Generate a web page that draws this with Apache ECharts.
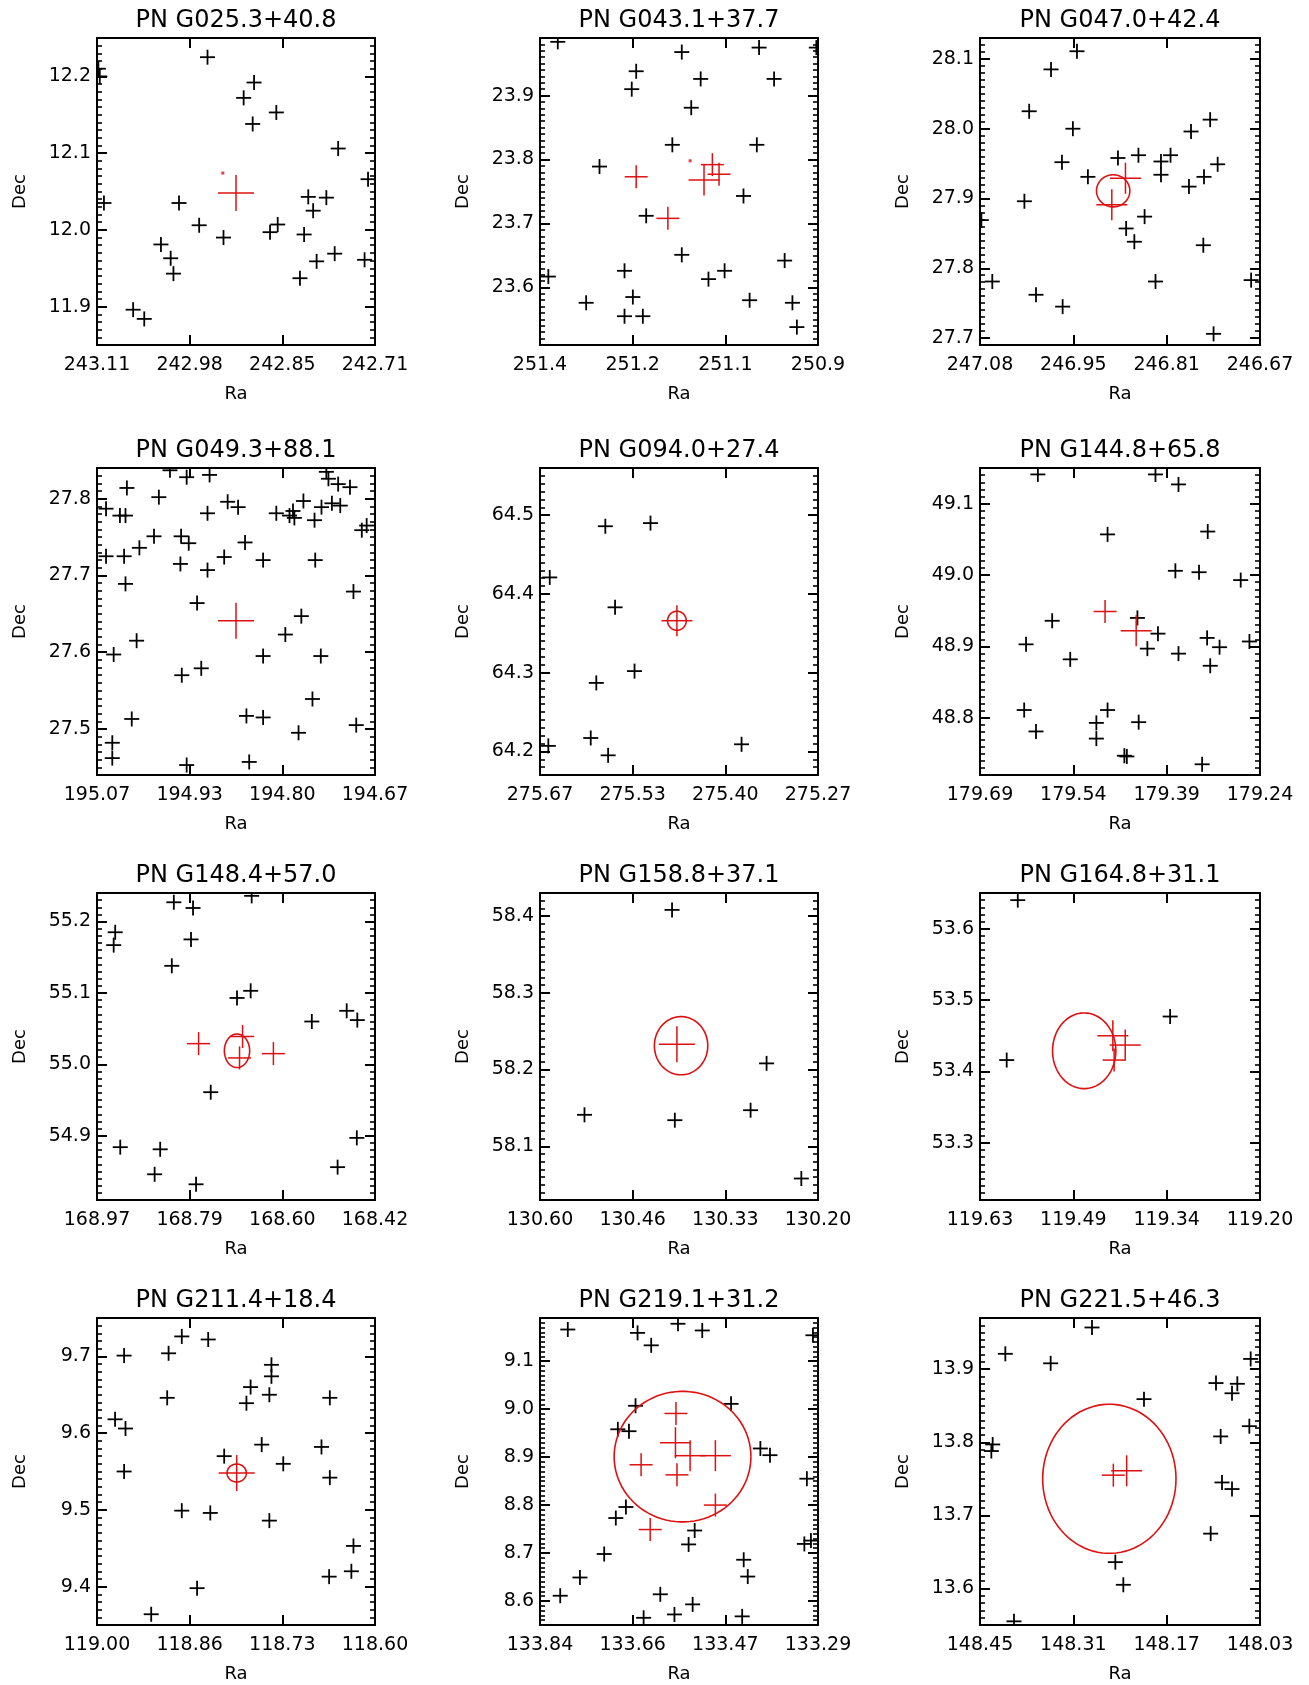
<!DOCTYPE html>
<html><head><meta charset="utf-8">
<script src="https://cdn.jsdelivr.net/npm/echarts@6/dist/echarts.min.js"></script>
<style>html,body{margin:0;padding:0;background:#fff}#c{width:1309px;height:1685px}</style>
</head><body><div id="c"></div><script>
// ---------- DATA ----------
const p1Title = 'PN G025.3+40.8';
const p1Ra = ['243.11','242.98','242.85','242.71'];
const p1Dec = ['11.9','12.0','12.1','12.2'];
const p1DecLim = [11.85, 12.25];
const p1Black = [[242.951,12.225],[243.108,12.210],[243.106,12.200],[242.884,12.192],[242.899,12.172],[242.852,12.153],[242.886,12.138],[242.763,12.106],[242.720,12.066],[243.100,12.035],[242.992,12.035],[242.963,12.006],[242.928,11.990],[243.018,11.981],[243.004,11.963],[243.000,11.943],[242.861,11.997],[242.850,12.007],[242.806,12.043],[242.799,12.025],[242.780,12.042],[242.812,11.994],[242.794,11.959],[242.768,11.969],[242.818,11.937],[242.725,11.961],[243.058,11.896],[243.042,11.884]];
const p1RedL = [[242.910,12.048]];
const p1Dots = [[242.929,12.074]];

const p2Title = 'PN G043.1+37.7';
const p2Ra = ['251.4','251.2','251.1','250.9'];
const p2Dec = ['23.6','23.7','23.8','23.9'];
const p2DecLim = [23.51, 23.99];
const p2Black = [[251.368,23.984],[251.145,23.968],[251.006,23.975],[250.903,23.975],[251.227,23.938],[251.235,23.910],[251.111,23.926],[250.979,23.926],[251.128,23.881],[251.162,23.823],[251.010,23.823],[251.293,23.789],[251.034,23.743],[251.209,23.712],[251.145,23.651],[250.960,23.642],[251.385,23.617],[251.248,23.626],[251.097,23.613],[251.068,23.626],[251.317,23.576],[251.233,23.585],[251.248,23.555],[251.215,23.555],[251.023,23.580],[250.946,23.576],[250.938,23.538]];
const p2RedM = [[251.105,23.768]];
const p2RedS = [[251.227,23.773],[251.170,23.708],[251.090,23.792],[251.078,23.777]];
const p2Dots = [[251.130,23.798]];

const p3Title = 'PN G047.0+42.4';
const p3Ra = ['247.08','246.95','246.81','246.67'];
const p3Dec = ['27.7','27.8','27.9','28.0','28.1'];
const p3DecLim = [27.69, 28.13];
const p3Black = [[246.938,28.111],[246.976,28.085],[247.008,28.025],[246.944,28.000],[246.960,27.952],[246.922,27.931],[246.878,27.958],[246.848,27.962],[246.815,27.953],[246.815,27.934],[246.801,27.962],[246.771,27.996],[246.743,28.013],[246.774,27.917],[246.752,27.931],[246.732,27.949],[247.015,27.896],[246.839,27.874],[246.866,27.857],[246.854,27.838],[246.753,27.833],[247.078,27.869],[247.062,27.781],[246.998,27.762],[246.959,27.745],[246.823,27.781],[246.683,27.783],[246.738,27.706]];
const p3RedM = [[246.867,27.929],[246.887,27.891]];
const p3Circ = [[246.885,27.911,0.0244,0.023]];

const p4Title = 'PN G049.3+88.1';
const p4Ra = ['195.07','194.93','194.80','194.67'];
const p4Dec = ['27.5','27.6','27.7','27.8'];
const p4DecLim = [27.44, 27.84];
const p4Black = [[194.965,27.837],[194.941,27.828],[194.908,27.831],[194.740,27.835],[194.737,27.826],[194.723,27.819],[194.706,27.815],[195.027,27.814],[194.981,27.802],[195.057,27.787],[195.037,27.778],[195.029,27.778],[194.882,27.796],[194.867,27.789],[194.911,27.781],[194.812,27.781],[194.788,27.784],[194.786,27.775],[194.793,27.778],[194.773,27.797],[194.757,27.772],[194.747,27.789],[194.732,27.794],[194.720,27.791],[194.689,27.759],[194.682,27.765],[194.988,27.751],[194.949,27.751],[194.938,27.742],[195.009,27.736],[194.857,27.743],[195.057,27.725],[195.031,27.725],[194.950,27.715],[194.887,27.724],[194.831,27.720],[194.756,27.720],[194.911,27.707],[195.029,27.689],[194.701,27.679],[194.926,27.664],[194.776,27.647],[194.799,27.623],[195.013,27.615],[195.046,27.597],[194.831,27.595],[194.748,27.595],[194.920,27.579],[194.948,27.570],[194.760,27.539],[195.020,27.513],[194.855,27.517],[194.831,27.515],[194.697,27.505],[194.780,27.495],[195.048,27.482],[195.048,27.462],[194.941,27.453],[194.851,27.457]];
const p4RedL = [[194.870,27.641]];

const p5Title = 'PN G094.0+27.4';
const p5Ra = ['275.67','275.53','275.40','275.27'];
const p5Dec = ['64.2','64.3','64.4','64.5'];
const p5DecLim = [64.17, 64.56];
const p5Black = [[275.576,64.486],[275.511,64.490],[275.656,64.421],[275.562,64.383],[275.534,64.302],[275.589,64.287],[275.597,64.217],[275.658,64.207],[275.572,64.195],[275.380,64.209]];
const p5RedM = [[275.473,64.366]];
const p5Circ = [[275.473,64.366,0.0134,0.0121]];

const p6Title = 'PN G144.8+65.8';
const p6Ra = ['179.69','179.54','179.39','179.24'];
const p6Dec = ['48.8','48.9','49.0','49.1'];
const p6DecLim = [48.72, 49.15];
const p6Black = [[179.597,49.141],[179.408,49.141],[179.371,49.127],[179.485,49.057],[179.324,49.061],[179.376,49.006],[179.338,49.004],[179.271,48.993],[179.574,48.936],[179.437,48.940],[179.404,48.918],[179.616,48.903],[179.421,48.897],[179.325,48.912],[179.305,48.899],[179.257,48.907],[179.371,48.890],[179.545,48.882],[179.320,48.873],[179.619,48.811],[179.485,48.811],[179.600,48.781],[179.503,48.793],[179.503,48.771],[179.435,48.794],[179.454,48.746],[179.458,48.747],[179.333,48.735]];
const p6RedM = [[179.439,48.922]];
const p6RedS = [[179.489,48.949]];

const p7Title = 'PN G148.4+57.0';
const p7Ra = ['168.97','168.79','168.60','168.42'];
const p7Dec = ['54.9','55.0','55.1','55.2'];
const p7DecLim = [54.81, 55.24];
const p7Black = [[168.818,55.227],[168.780,55.219],[168.664,55.236],[168.934,55.185],[168.937,55.167],[168.784,55.175],[168.822,55.138],[168.666,55.103],[168.693,55.093],[168.545,55.060],[168.476,55.075],[168.455,55.062],[168.745,54.961],[168.456,54.897],[168.924,54.884],[168.845,54.881],[168.494,54.856],[168.856,54.846],[168.774,54.832]];
const p7RedS = [[168.769,55.029],[168.621,55.015],[168.682,55.039],[168.688,55.009]];
const p7Circ = [[168.693,55.019,0.025,0.0235]];

const p8Title = 'PN G158.8+37.1';
const p8Ra = ['130.60','130.46','130.33','130.20'];
const p8Dec = ['58.1','58.2','58.3','58.4'];
const p8DecLim = [58.03, 58.43];
const p8Black = [[130.410,58.408],[130.274,58.208],[130.536,58.141],[130.406,58.134],[130.297,58.147],[130.224,58.058]];
const p8RedL = [[130.403,58.233]];
const p8Circ = [[130.397,58.231,0.0384,0.0379]];

const p9Title = 'PN G164.8+31.1';
const p9Ra = ['119.63','119.49','119.34','119.20'];
const p9Dec = ['53.3','53.4','53.5','53.6'];
const p9DecLim = [53.22, 53.65];
const p9Black = [[119.572,53.640],[119.338,53.477],[119.589,53.416]];
const p9RedM = [[119.426,53.450],[119.407,53.437]];
const p9RedS = [[119.424,53.416]];
const p9Circ = [[119.470,53.429,0.0486,0.053]];

const p10Title = 'PN G211.4+18.4';
const p10Ra = ['119.00','118.86','118.73','118.60'];
const p10Dec = ['9.4','9.5','9.6','9.7'];
const p10DecLim = [9.35, 9.75];
const p10Black = [[118.878,9.726],[118.840,9.722],[118.961,9.701],[118.897,9.704],[118.749,9.689],[118.749,9.674],[118.779,9.660],[118.752,9.650],[118.785,9.639],[118.899,9.646],[118.665,9.646],[118.974,9.618],[118.959,9.606],[118.763,9.585],[118.677,9.582],[118.817,9.570],[118.732,9.560],[118.961,9.550],[118.665,9.542],[118.878,9.499],[118.837,9.496],[118.752,9.486],[118.631,9.453],[118.634,9.420],[118.666,9.413],[118.856,9.398],[118.922,9.364]];
const p10RedL = [[118.799,9.548]];
const p10Circ = [[118.799,9.548,0.0139,0.0117]];

const p11Title = 'PN G219.1+31.2';
const p11Ra = ['133.84','133.66','133.47','133.29'];
const p11Dec = ['8.6','8.7','8.8','8.9','9.0','9.1'];
const p11DecLim = [8.55, 9.19];
const p11Black = [[133.785,9.166],[133.647,9.159],[133.620,9.133],[133.567,9.178],[133.519,9.164],[133.300,9.154],[133.651,9.007],[133.462,9.011],[133.686,8.958],[133.664,8.954],[133.404,8.918],[133.385,8.904],[133.312,8.855],[133.670,8.796],[133.690,8.773],[133.534,8.747],[133.546,8.718],[133.317,8.719],[133.304,8.726],[133.713,8.698],[133.437,8.686],[133.429,8.651],[133.761,8.649],[133.800,8.611],[133.602,8.614],[133.538,8.593],[133.635,8.565],[133.574,8.572],[133.440,8.568]];
const p11RedM = [[133.572,8.930],[133.543,8.903],[133.493,8.903]];
const p11RedS = [[133.571,8.991],[133.640,8.884],[133.569,8.863],[133.493,8.800],[133.622,8.749]];
const p11Circ = [[133.558,8.901,0.1353,0.1361]];

const p12Title = 'PN G221.5+46.3';
const p12Ra = ['148.45','148.31','148.17','148.03'];
const p12Dec = ['13.6','13.7','13.8','13.9'];
const p12DecLim = [13.55, 13.97];
const p12Black = [[148.282,13.957],[148.412,13.921],[148.344,13.908],[148.044,13.914],[148.096,13.881],[148.064,13.880],[148.072,13.867],[148.204,13.859],[148.046,13.822],[148.089,13.808],[148.431,13.797],[148.433,13.788],[148.087,13.745],[148.072,13.736],[148.104,13.675],[148.247,13.636],[148.235,13.605],[148.399,13.555]];
const p12RedM = [[148.230,13.761]];
const p12RedS = [[148.250,13.755]];
const p12Circ = [[148.256,13.750,0.1,0.102]];

// ---------- ASSEMBLY ----------
const panels = [
  {title:p1Title, ra:p1Ra, dec:p1Dec, lim:p1DecLim, black:p1Black, redL:p1RedL, dots:p1Dots},
  {title:p2Title, ra:p2Ra, dec:p2Dec, lim:p2DecLim, black:p2Black, redM:p2RedM, redS:p2RedS, dots:p2Dots},
  {title:p3Title, ra:p3Ra, dec:p3Dec, lim:p3DecLim, black:p3Black, redM:p3RedM, circ:p3Circ},
  {title:p4Title, ra:p4Ra, dec:p4Dec, lim:p4DecLim, black:p4Black, redL:p4RedL},
  {title:p5Title, ra:p5Ra, dec:p5Dec, lim:p5DecLim, black:p5Black, redM:p5RedM, circ:p5Circ},
  {title:p6Title, ra:p6Ra, dec:p6Dec, lim:p6DecLim, black:p6Black, redM:p6RedM, redS:p6RedS},
  {title:p7Title, ra:p7Ra, dec:p7Dec, lim:p7DecLim, black:p7Black, redS:p7RedS, circ:p7Circ},
  {title:p8Title, ra:p8Ra, dec:p8Dec, lim:p8DecLim, black:p8Black, redL:p8RedL, circ:p8Circ},
  {title:p9Title, ra:p9Ra, dec:p9Dec, lim:p9DecLim, black:p9Black, redM:p9RedM, redS:p9RedS, circ:p9Circ},
  {title:p10Title, ra:p10Ra, dec:p10Dec, lim:p10DecLim, black:p10Black, redL:p10RedL, circ:p10Circ},
  {title:p11Title, ra:p11Ra, dec:p11Dec, lim:p11DecLim, black:p11Black, redM:p11RedM, redS:p11RedS, circ:p11Circ},
  {title:p12Title, ra:p12Ra, dec:p12Dec, lim:p12DecLim, black:p12Black, redM:p12RedM, redS:p12RedS, circ:p12Circ}
];

const GL = [97, 540, 980], GW = [278, 278, 280], GT = [38, 468, 893, 1318], GH = 307;
const FONT = 'DejaVu Sans';
const RED = '#dd1111';
const MINOR = 0.01;

function crossRender(half, color, lw) {
  return function (params, api) {
    const c = api.coord([api.value(0), api.value(1)]);
    return {type:'group', children:[
      {type:'line', shape:{x1:c[0]-half, y1:c[1], x2:c[0]+half, y2:c[1]}, style:{stroke:color, lineWidth:lw}},
      {type:'line', shape:{x1:c[0], y1:c[1]-half, x2:c[0], y2:c[1]+half}, style:{stroke:color, lineWidth:lw}}
    ]};
  };
}
function ellipseRender(params, api) {
  const cx = api.value(0), cy = api.value(1);
  const c = api.coord([cx, cy]);
  const s = api.size([api.value(2), api.value(3)], [cx, cy]);
  const pts = [];
  for (let k = 0; k <= 90; k++) {
    const a = k / 90 * 2 * Math.PI;
    pts.push([c[0] + s[0] * Math.cos(a), c[1] + s[1] * Math.sin(a)]);
  }
  return {type:'polyline', shape:{points:pts}, style:{fill:null, stroke:RED, lineWidth:1.6}};
}

const option = {animation:false, backgroundColor:'#fff', graphic:[], grid:[], xAxis:[], yAxis:[], series:[]};
const txt = {fontFamily:FONT, fontSize:19, color:'#000'};
const nameTxt = {fontFamily:FONT, fontSize:18, color:'#000'};
const frame = {show:true, onZero:false, lineStyle:{color:'#000', width:2}};

panels.forEach((p, i) => {
  const col = i % 3, row = Math.floor(i / 3);
  const left = GL[col], top = GT[row], w = GW[col];
  option.grid.push({left:left, top:top, width:w, height:GH, containLabel:false, show:false});
  option.graphic.push({type:'text', x:left + w / 2, y:top - 17, style:{text:p.title, fill:'#000', font:'24px "DejaVu Sans"', align:'center', verticalAlign:'middle'}});

  // RA axes (bottom with labels, top ticks only); ticks at the label positions
  const raMin = Number(p.ra[p.ra.length - 1]), raMax = Number(p.ra[0]);
  const n = p.ra.length - 1, step = (raMax - raMin) / n;
  const raVals = p.ra.map((_, k) => raMax - k * step);
  const raFmt = v => p.ra[Math.max(0, Math.min(n, Math.round((raMax - v) / step)))];
  const xBase = {type:'value', gridIndex:i, min:raMin, max:raMax, inverse:true, splitLine:{show:false}, axisLine:frame,
    axisTick:{show:true, inside:true, length:10, customValues:raVals, lineStyle:{color:'#000', width:2}}};
  option.xAxis.push(Object.assign({}, xBase, {position:'bottom',
    axisLabel:Object.assign({show:true, customValues:raVals, formatter:raFmt, margin:11}, txt),
    name:'Ra', nameLocation:'middle', nameGap:40, nameTextStyle:nameTxt}));
  option.xAxis.push(Object.assign({}, xBase, {position:'top', axisLabel:{show:false}}));

  // Dec axes: fine ticks every 0.01 (min is a multiple of 0.01), long ticks + labels at the tick labels
  const dVals = p.dec.map(Number);
  const fine = {type:'value', gridIndex:i, min:p.lim[0], max:p.lim[1], interval:MINOR, splitLine:{show:false}, axisLine:frame,
    axisTick:{show:true, inside:true, length:5, lineStyle:{color:'#000', width:1.6}}};
  option.yAxis.push(Object.assign({}, fine, {position:'left',
    axisLabel:Object.assign({show:true, customValues:dVals, formatter:v => v.toFixed(1), margin:6}, txt),
    name:'Dec', nameLocation:'middle', nameGap:68, nameRotate:90, nameTextStyle:nameTxt}));
  option.yAxis.push(Object.assign({}, fine, {position:'right', axisLabel:{show:false}}));
  const major = {type:'value', gridIndex:i, min:p.lim[0], max:p.lim[1], splitLine:{show:false}, axisLine:frame,
    axisTick:{show:true, inside:true, length:10, customValues:dVals, lineStyle:{color:'#000', width:2}}, axisLabel:{show:false}};
  option.yAxis.push(Object.assign({}, major, {position:'left'}));
  option.yAxis.push(Object.assign({}, major, {position:'right'}));

  const xb = 2 * i, xt = 2 * i + 1, yl = 4 * i, yr = 4 * i + 1;
  option.series.push({type:'custom', name:'stars', xAxisIndex:xb, yAxisIndex:yl, clip:true, silent:true, data:p.black, renderItem:crossRender(7.5, '#000', 1.8)});
  if (p.circ) option.series.push({type:'custom', name:'PN size', xAxisIndex:xt, yAxisIndex:yr, clip:true, silent:true, data:p.circ, renderItem:ellipseRender});
  if (p.redL) option.series.push({type:'custom', name:'PN', xAxisIndex:xt, yAxisIndex:yr, clip:true, silent:true, data:p.redL, renderItem:crossRender(18, RED, 1.5)});
  if (p.redM) option.series.push({type:'custom', name:'source M', xAxisIndex:xt, yAxisIndex:yr, clip:true, silent:true, data:p.redM, renderItem:crossRender(15.5, RED, 1.5)});
  if (p.redS) option.series.push({type:'custom', name:'source S', xAxisIndex:xt, yAxisIndex:yr, clip:true, silent:true, data:p.redS, renderItem:crossRender(11.5, RED, 1.5)});
  if (p.dots) option.series.push({type:'scatter', name:'dot', xAxisIndex:xt, yAxisIndex:yr, silent:true, symbol:'rect', symbolSize:3, itemStyle:{color:RED}, data:p.dots});
});

const chart = echarts.init(document.getElementById('c'), null, {renderer:'canvas'});
chart.setOption(option);
</script></body></html>
